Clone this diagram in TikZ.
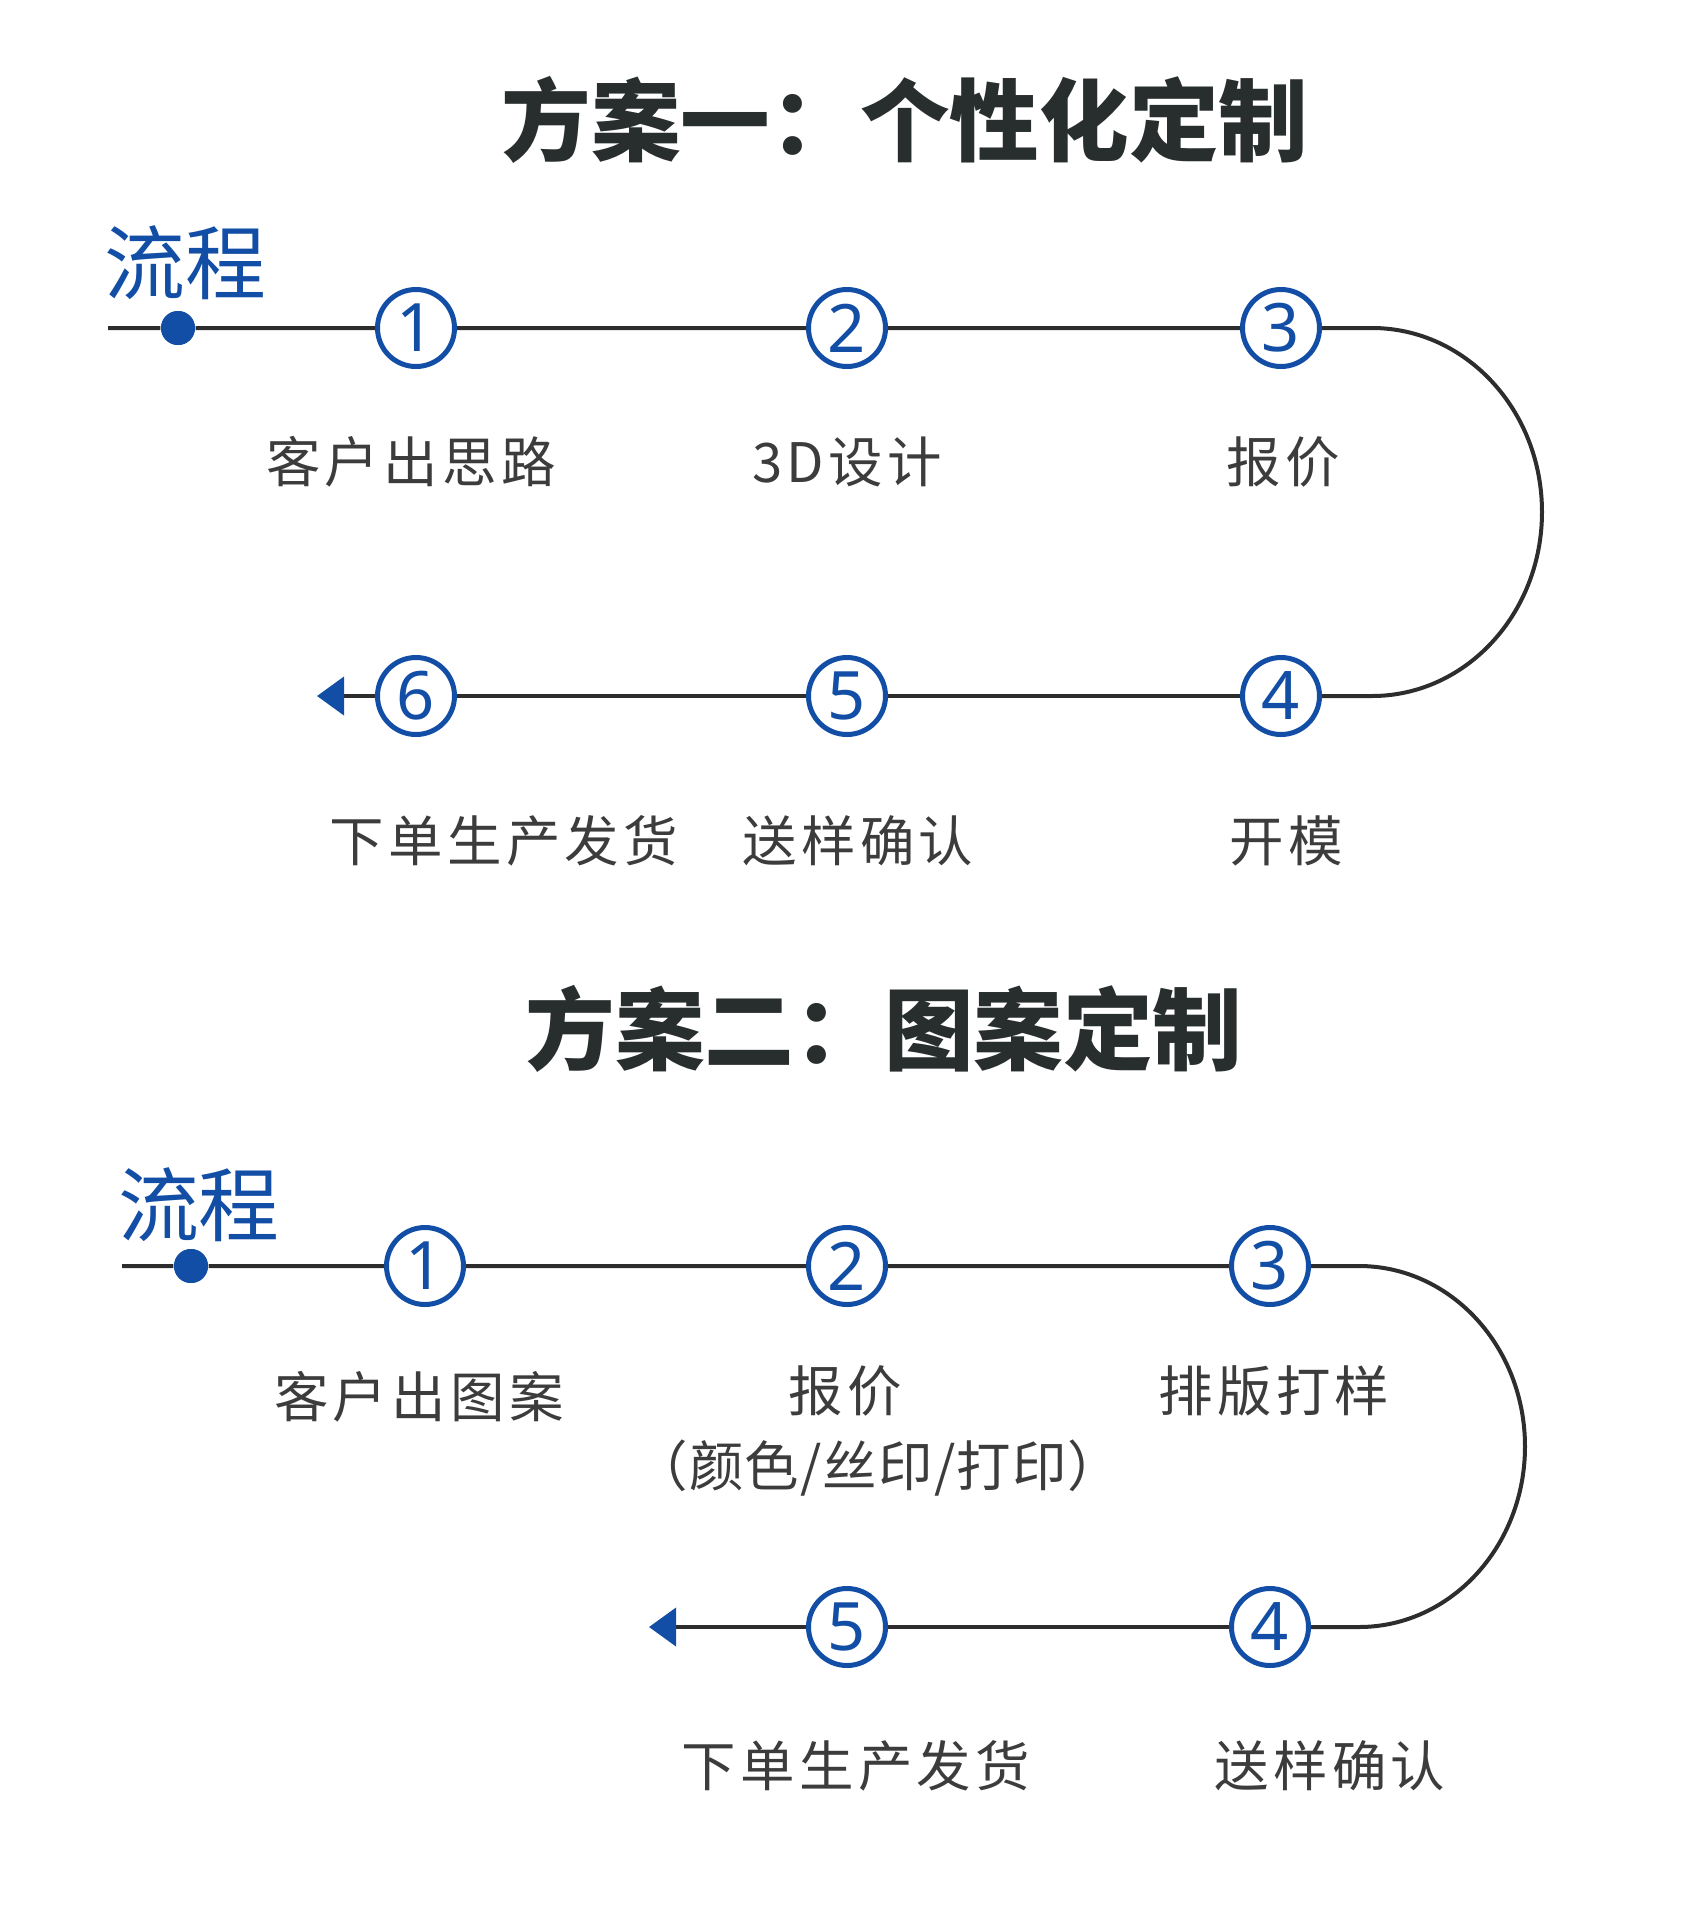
\documentclass[tikz,border=0pt]{standalone}
\usepackage{fontspec}
\setmainfont{Noto Sans CJK SC}
\newfontfamily\numfont{Noto Sans}
\newfontfamily\labelfont{Noto Sans CJK SC}[LetterSpace=8]
\newfontfamily\notefont{Noto Sans CJK SC}[LetterSpace=2]
\usetikzlibrary{arrows.meta}

\definecolor{flowblue}{RGB}{18,78,165}
\definecolor{linegray}{RGB}{45,45,45}
\definecolor{labelgray}{RGB}{60,60,60}
\definecolor{titlegray}{RGB}{40,45,45}

\tikzset{
  stepnum/.style={circle, draw=flowblue, fill=white, line width=0.5mm,
    minimum size=7.7mm, inner sep=0pt, text=flowblue,
    font=\numfont\fontsize{19}{19}\selectfont},
  steplabel/.style={text=labelgray, font=\labelfont\fontsize{15.5}{20}\selectfont},
  flowline/.style={draw=linegray, line width=0.4mm},
  flowtag/.style={text=flowblue, font=\fontsize{23}{26}\selectfont},
  title/.style={text=titlegray, font=\bfseries\fontsize{25.5}{28}\selectfont},
  startdot/.style={circle, fill=flowblue, minimum size=3.4mm, inner sep=0pt},
  flowend/.style={-{Triangle[length=2.7mm, width=3.8mm, color=flowblue]}}
}

\begin{document}
\begin{tikzpicture}[x=0.1mm, y=-0.1mm]
\useasboundingbox (0,0) rectangle (1685,1920);

% plan one
\node[title] (title1) at (905,120) {方案一：个性化定制};
\node[flowtag] (tag1) at (185,263) {流程};
\coordinate (start1) at (108,328);
\node[startdot] (dot1) at (178,328) {};
\foreach \n/\x in {1/416,2/847,3/1281}
  \node[stepnum] (a\n) at (\x,328) {\n};
\foreach \n/\x in {4/1281,5/847,6/416}
  \node[stepnum] (a\n) at (\x,696) {\n};
\coordinate (turn1) at (1372,328);
\coordinate (end1) at (317,696);
\draw[flowline] (start1) -- (dot1) -- (a1) -- (a2) -- (a3) -- (turn1)
  arc[start angle=90, end angle=-90, x radius=17mm, y radius=18.4mm] -- (a4);
\draw[flowline] (a4) -- (a5) -- (a6);
\draw[flowline, flowend] (a6) -- (end1);
\node[startdot] at (dot1) {};

\node[steplabel] (l1) at (411,462) {客户出思路};
\node[steplabel] (l2) at (847,462) {3D设计};
\node[steplabel] (l3) at (1283,462) {报价};
\node[steplabel] (l4) at (1286,841) {开模};
\node[steplabel] (l5) at (858,841) {送样确认};
\node[steplabel] (l6) at (504,841) {下单生产发货};

% plan two
\node[title] (title2) at (884,1029) {方案二：图案定制};
\node[flowtag] (tag2) at (199,1205) {流程};
\coordinate (start2) at (122,1266);
\node[startdot] (dot2) at (191,1266) {};
\foreach \n/\x in {1/425,2/847,3/1270}
  \node[stepnum] (b\n) at (\x,1266) {\n};
\foreach \n/\x in {4/1270,5/847}
  \node[stepnum] (b\n) at (\x,1627) {\n};
\coordinate (turn2) at (1359,1266);
\coordinate (end2) at (649,1627);
\draw[flowline] (start2) -- (dot2) -- (b1) -- (b2) -- (b3) -- (turn2)
  arc[start angle=90, end angle=-90, x radius=16.6mm, y radius=18.05mm] -- (b4);
\draw[flowline] (b4) -- (b5);
\draw[flowline, flowend] (b5) -- (end2);
\node[startdot] at (dot2) {};

\node[steplabel] (m1) at (419,1397) {客户出图案};
\node[steplabel] (m2) at (845,1391) {报价};
\node[steplabel, font=\notefont\fontsize{15.5}{20}\selectfont] (m2b) at (878,1468) {（颜色/丝印/打印）};
\node[steplabel] (m3) at (1274,1391) {排版打样};
\node[steplabel] (m4) at (1330,1766) {送样确认};
\node[steplabel] (m5) at (856,1766) {下单生产发货};
\end{tikzpicture}
\end{document}
